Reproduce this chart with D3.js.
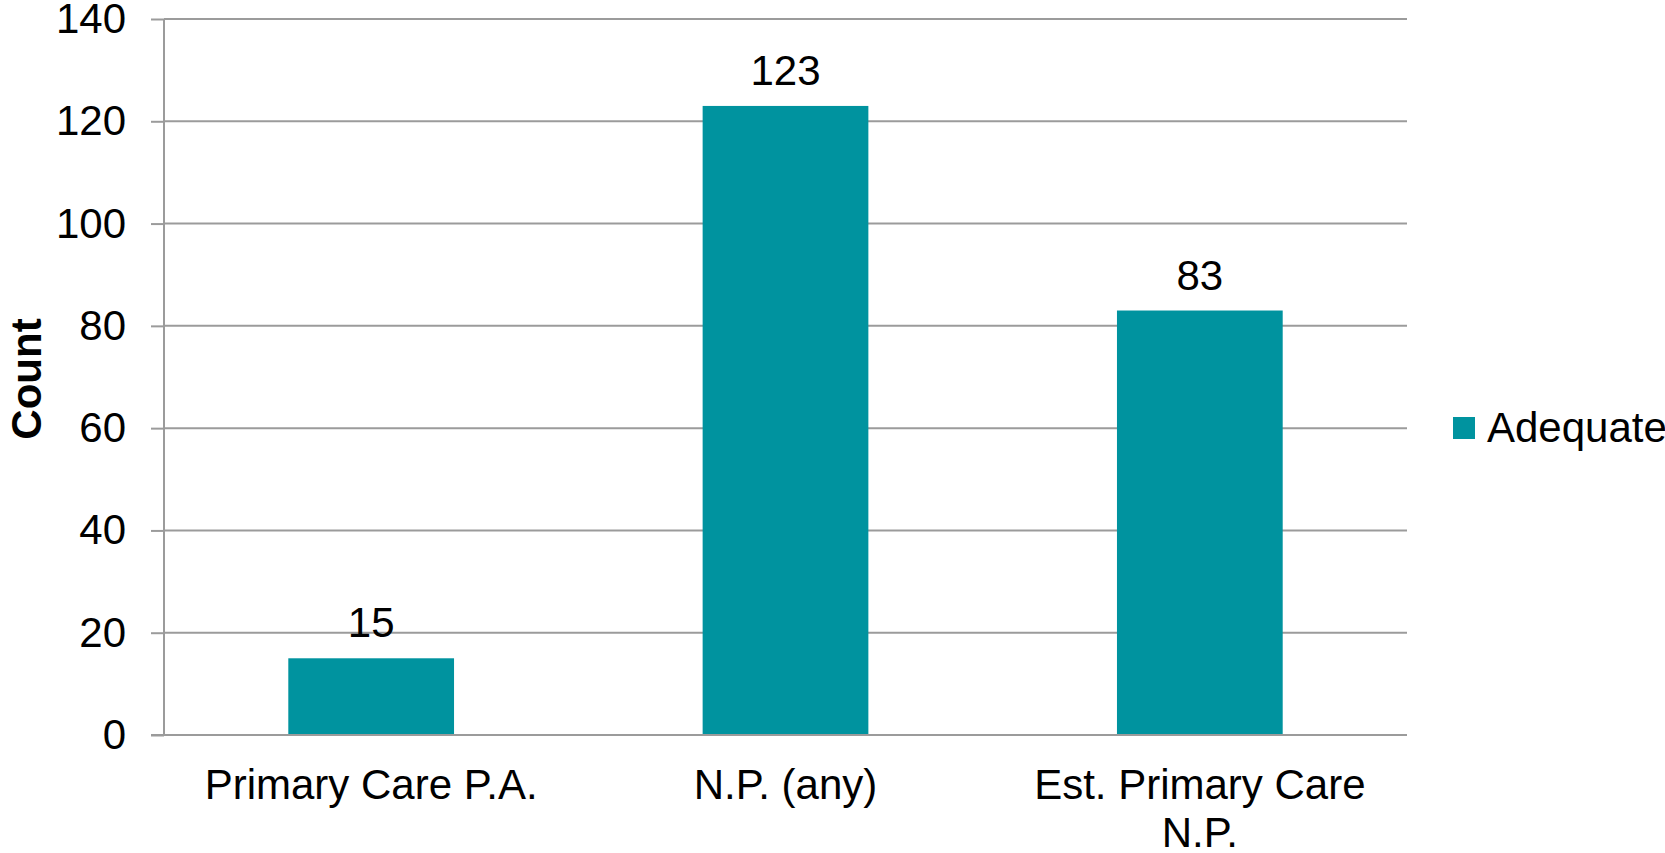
<!DOCTYPE html>
<html>
<head>
<meta charset="utf-8">
<script src="https://cdn.jsdelivr.net/npm/d3@7"></script>
<style>
  body { margin: 0; background: #fff; }
  text { font-family: "Liberation Sans", Arial, sans-serif; fill: #000; }
</style>
</head>
<body>
<svg id="chart" width="1665" height="853"></svg>
<script>
const categories = [['Primary Care P.A.'], ['N.P. (any)'], ['Est. Primary Care', 'N.P.']]
const values = [15, 123, 83]
const yTicks = [0, 20, 40, 60, 80, 100, 120, 140]
const seriesName = 'Adequate'

const width = 1665
const height = 853
const margin = { top: 19, right: 258, bottom: 118, left: 164 }
const barColor = '#00939f'
const gridColor = '#9b9b9b'
const fontSize = 42

const svg = d3.select('#chart')

const x = d3.scaleBand()
  .domain(d3.range(categories.length))
  .range([margin.left, width - margin.right])
  .paddingInner(0.6)
  .paddingOuter(0.3)

const y = d3.scaleLinear()
  .domain([0, 140])
  .range([height - margin.bottom, margin.top])

// gridlines + left ticks
const yAxis = svg.append('g')
  .attr('transform', 'translate(' + margin.left + ',0)')
  .call(d3.axisLeft(y).tickValues(yTicks).tickSize(13).tickPadding(25))
yAxis.select('.domain').remove()
yAxis.selectAll('.tick line').attr('stroke', gridColor).attr('stroke-width', 2)
yAxis.selectAll('.tick text').attr('font-size', fontSize).attr('font-family', '"Liberation Sans", Arial, sans-serif')

svg.append('g')
  .selectAll('line')
  .data(yTicks)
  .enter().append('line')
    .attr('x1', margin.left)
    .attr('x2', width - margin.right)
    .attr('y1', d => y(d))
    .attr('y2', d => y(d))
    .attr('stroke', gridColor)
    .attr('stroke-width', 2)

svg.append('line')
  .attr('x1', margin.left).attr('x2', margin.left)
  .attr('y1', y(140)).attr('y2', y(0))
  .attr('stroke', gridColor)
  .attr('stroke-width', 2)

// bars
svg.append('g')
  .selectAll('rect')
  .data(values)
  .enter().append('rect')
    .attr('x', (d, i) => x(i))
    .attr('y', d => y(d))
    .attr('width', x.bandwidth())
    .attr('height', d => y(0) - y(d))
    .attr('fill', barColor)

// redraw baseline over bars
svg.append('line')
  .attr('x1', margin.left - 13).attr('x2', width - margin.right)
  .attr('y1', y(0)).attr('y2', y(0))
  .attr('stroke', gridColor)
  .attr('stroke-width', 2)

// value labels
svg.append('g')
  .selectAll('text')
  .data(values)
  .enter().append('text')
    .attr('x', (d, i) => x(i) + x.bandwidth() / 2)
    .attr('y', d => y(d) - 21)
    .attr('text-anchor', 'middle')
    .attr('font-size', fontSize)
    .text(d => d)

// category labels
const cat = svg.append('g')
  .selectAll('text')
  .data(categories)
  .enter().append('text')
    .attr('x', (d, i) => x(i) + x.bandwidth() / 2)
    .attr('y', 799)
    .attr('text-anchor', 'middle')
    .attr('font-size', fontSize)
cat.selectAll('tspan')
  .data((d, i) => d.map(t => ({ t, i })))
  .enter().append('tspan')
    .attr('x', d => x(d.i) + x.bandwidth() / 2)
    .attr('dy', (d, j) => j === 0 ? 0 : 48)
    .text(d => d.t)

// y title
svg.append('text')
  .attr('transform', 'translate(41,379) rotate(-90)')
  .attr('text-anchor', 'middle')
  .attr('font-size', 42)
  .attr('font-weight', 'bold')
  .text('Count')

// legend
const legend = svg.append('g').attr('transform', 'translate(1453,417)')
legend.append('rect')
  .attr('width', 22).attr('height', 22)
  .attr('fill', barColor)
legend.append('text')
  .attr('x', 34).attr('y', 25)
  .attr('font-size', fontSize)
  .text(seriesName)
</script>
</body>
</html>
